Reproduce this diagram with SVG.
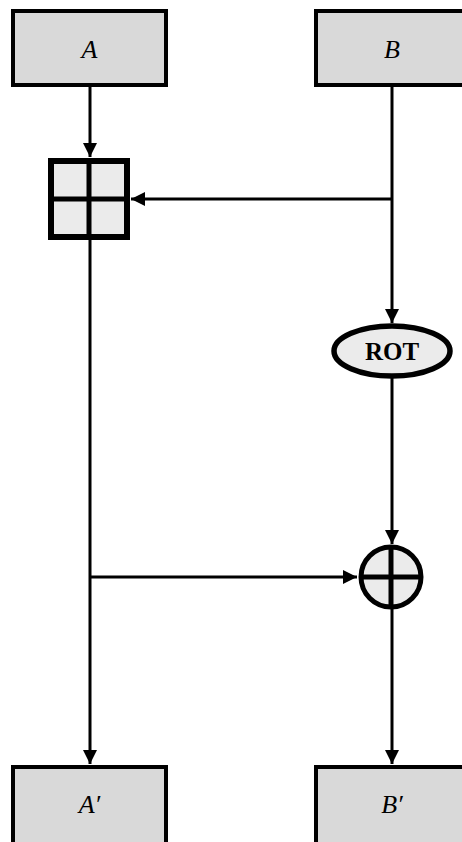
<svg xmlns="http://www.w3.org/2000/svg" width="462" height="842" viewBox="0 0 462 842">
<style>
.box{fill:#d9d9d9;stroke:#000;stroke-width:4}
.op{fill:#ebebeb;stroke:#000}
.lbl{font-family:"Liberation Serif","DejaVu Serif",serif;font-style:italic;font-size:26px;text-anchor:middle}
.rot{font-family:"Liberation Serif","DejaVu Serif",serif;font-weight:bold;font-size:25px;text-anchor:middle}
.wire{stroke:#000;stroke-width:3;fill:none}
</style>
<defs>
<marker id="ah" viewBox="0 0 10 10" refX="10" refY="5" markerWidth="4.8" markerHeight="4.8" orient="auto" markerUnits="strokeWidth">
<path d="M0,0 L10,5 L0,10 Z" fill="#000"/>
</marker>
</defs>
<g id="connectors">
<line class="wire" x1="90" y1="86" x2="90" y2="157" marker-end="url(#ah)"/>
<line class="wire" x1="392" y1="199" x2="131" y2="199" marker-end="url(#ah)"/>
<line class="wire" x1="392" y1="86" x2="392" y2="323" marker-end="url(#ah)"/>
<line class="wire" x1="90" y1="240" x2="90" y2="764" marker-end="url(#ah)"/>
<line class="wire" x1="392" y1="378" x2="392" y2="544" marker-end="url(#ah)"/>
<line class="wire" x1="90" y1="577" x2="357" y2="577" marker-end="url(#ah)"/>
<line class="wire" x1="392" y1="609" x2="392" y2="764" marker-end="url(#ah)"/>
</g>
<g id="A">
<rect class="box" x="13" y="11" width="153" height="74"/>
<text class="lbl" x="89.5" y="58">A</text>
</g>
<g id="B">
<rect class="box" x="316" y="11" width="153" height="74"/>
<text class="lbl" x="392" y="58">B</text>
</g>
<g id="add">
<rect class="op" x="51" y="161" width="76" height="76" stroke-width="6"/>
<line x1="89" y1="161" x2="89" y2="237" stroke="#000" stroke-width="5"/>
<line x1="51" y1="199" x2="127" y2="199" stroke="#000" stroke-width="5"/>
</g>
<g id="rot">
<ellipse class="op" cx="392" cy="351" rx="58" ry="25" stroke-width="5.5"/>
<text class="rot" x="392" y="360">ROT</text>
</g>
<g id="xor">
<circle class="op" cx="391" cy="577" r="30" stroke-width="5"/>
<line x1="391" y1="547" x2="391" y2="607" stroke="#000" stroke-width="5"/>
<line x1="361" y1="577" x2="421" y2="577" stroke="#000" stroke-width="5"/>
</g>
<g id="A2">
<rect class="box" x="13" y="767" width="153" height="80"/>
<text class="lbl" x="89.5" y="813">A′</text>
</g>
<g id="B2">
<rect class="box" x="316" y="767" width="153" height="80"/>
<text class="lbl" x="392" y="813">B′</text>
</g>
</svg>
